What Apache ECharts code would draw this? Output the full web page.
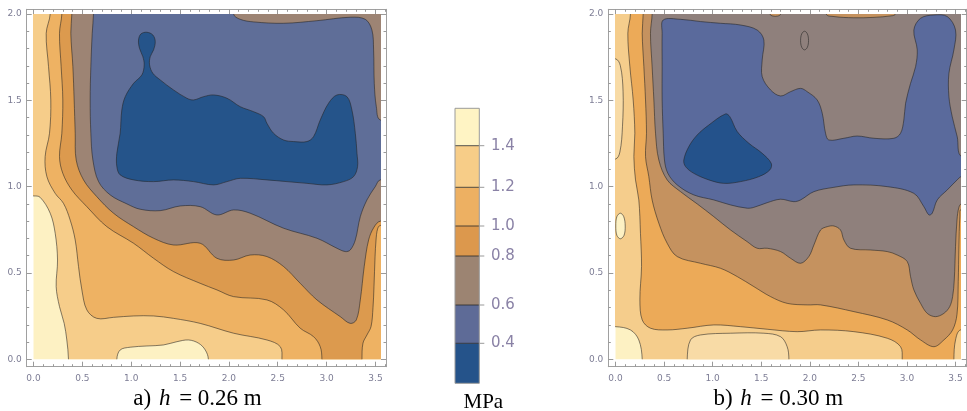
<!DOCTYPE html>
<html><head><meta charset="utf-8">
<script src="https://cdn.jsdelivr.net/npm/echarts@6/dist/echarts.min.js"></script>
<style>html,body{margin:0;padding:0;background:#fff}#c{width:967px;height:411px}</style>
</head><body><div id="c"></div>
<script>
// ================= DATA =================
// contour levels (MPa) shown in the colour bar
const legendLabels = ['0.4', '0.6', '0.8', '1.0', '1.2', '1.4'];
// axis ticks
const xMajor = [0, 0.5, 1, 1.5, 2, 2.5, 3, 3.5];
const xMinor = [0,0.1,0.2,0.3,0.4,0.5,0.6,0.7,0.8,0.9,1,1.1,1.2,1.3,1.4,1.5,1.6,1.7,1.8,1.9,2,2.1,2.2,2.3,2.4,2.5,2.6,2.7,2.8,2.9,3,3.1,3.2,3.3,3.4,3.5,3.6];
const yMajor = [0, 0.5, 1, 1.5, 2];
const yMinor = [0,0.1,0.2,0.3,0.4,0.5,0.6,0.7,0.8,0.9,1,1.1,1.2,1.3,1.4,1.5,1.6,1.7,1.8,1.9,2];
const xExtent = [0, 3.55];
const yExtent = [0, 2];
const captionA = ['a) ', 'h', ' = 0.26 m'];
const captionB = ['b) ', 'h', ' = 0.30 m'];

// ---- plot a) h = 0.26 m : sub-level sets (x [m], y [m])
const a_lt14 = [[-0.3,2.3],[-0.3,0.946],[0,0.946],[0.068,0.938],[0.171,0.846],[0.222,0.730],[0.246,0.575],[0.232,0.421],[0.266,0.305],[0.314,0.208],[0.341,0.112],[0.358,0],[0.36,-0.3],[0.85,-0.3],[0.853,0],[0.887,0.054],[0.99,0.07],[1.16,0.077],[1.33,0.083],[1.468,0.102],[1.587,0.112],[1.69,0.093],[1.758,0.054],[1.79,0],[1.79,-0.3],[3.9,-0.3],[3.9,2.3]];
const a_lt12 = [[0.17,2.3],[0.171,2.0],[0.130,1.888],[0.154,1.695],[0.177,1.502],[0.164,1.309],[0.119,1.174],[0.137,1.058],[0.222,0.961],[0.307,0.903],[0.375,0.807],[0.427,0.691],[0.461,0.537],[0.495,0.402],[0.546,0.286],[0.648,0.237],[0.819,0.243],[1.024,0.251],[1.229,0.251],[1.433,0.237],[1.706,0.208],[2.048,0.151],[2.389,0.112],[2.526,0.073],[2.543,0],[2.545,-0.3],[3.9,-0.3],[3.9,2.3]];
const a_lt10 = [[0.29,2.3],[0.290,2.0],[0.266,1.888],[0.283,1.695],[0.300,1.502],[0.290,1.309],[0.266,1.174],[0.300,1.077],[0.392,0.981],[0.546,0.884],[0.751,0.768],[1.024,0.672],[1.229,0.585],[1.433,0.508],[1.706,0.440],[1.877,0.402],[2.048,0.363],[2.389,0.344],[2.560,0.286],[2.730,0.180],[2.867,0.131],[2.935,0.073],[2.952,0],[2.955,-0.3],[3.36,-0.3],[3.362,0],[3.372,0.093],[3.413,0.141],[3.455,0.19],[3.475,0.30],[3.485,0.42],[3.496,0.594],[3.506,0.691],[3.522,0.755],[3.55,0.775],[3.9,0.775],[3.9,2.3]];
const a_lt08 = [[0.39,2.3],[0.392,2.0],[0.382,1.888],[0.403,1.695],[0.416,1.502],[0.427,1.309],[0.437,1.154],[0.512,1.039],[0.648,0.942],[0.819,0.846],[1.024,0.768],[1.229,0.701],[1.433,0.662],[1.706,0.672],[1.877,0.585],[2.048,0.575],[2.218,0.604],[2.389,0.595],[2.560,0.537],[2.730,0.440],[2.901,0.344],[3.140,0.247],[3.242,0.208],[3.304,0.228],[3.345,0.344],[3.385,0.537],[3.43,0.691],[3.485,0.765],[3.55,0.80],[3.9,0.81],[3.9,2.3]];
const a_lt06 = [[0.601,1.888],[0.614,2.0],[0.62,2.3],[2.04,2.3],[2.048,2.0],[2.116,1.969],[2.253,1.954],[2.560,1.946],[2.901,1.961],[3.242,1.981],[3.396,1.969],[3.464,1.907],[3.481,1.792],[3.488,1.598],[3.509,1.463],[3.55,1.386],[3.9,1.38],[3.9,1.045],[3.55,1.039],[3.498,1.0],[3.413,0.923],[3.345,0.826],[3.294,0.691],[3.242,0.633],[3.191,0.624],[3.106,0.643],[2.901,0.701],[2.560,0.759],[2.218,0.846],[2.048,0.865],[1.877,0.836],[1.706,0.884],[1.502,0.888],[1.297,0.861],[1.092,0.869],[0.956,0.900],[0.785,0.952],[0.666,1.029],[0.608,1.154],[0.587,1.309],[0.580,1.502],[0.587,1.695]];
const a_lt04 = [[1.160,1.894],[1.222,1.878],[1.246,1.840],[1.229,1.792],[1.195,1.753],[1.188,1.705],[1.222,1.656],[1.297,1.618],[1.433,1.560],[1.570,1.512],[1.638,1.502],[1.741,1.521],[1.843,1.531],[1.980,1.512],[2.116,1.463],[2.253,1.434],[2.355,1.405],[2.389,1.367],[2.457,1.309],[2.560,1.270],[2.662,1.261],[2.799,1.261],[2.867,1.290],[2.935,1.386],[3.020,1.483],[3.106,1.531],[3.208,1.521],[3.259,1.444],[3.294,1.309],[3.311,1.193],[3.317,1.116],[3.276,1.058],[3.174,1.029],[3.003,1.010],[2.799,1.019],[2.594,1.029],[2.389,1.039],[2.116,1.048],[1.980,1.029],[1.843,1.010],[1.638,1.029],[1.433,1.039],[1.229,1.029],[1.024,1.039],[0.887,1.068],[0.853,1.116],[0.853,1.193],[0.887,1.309],[0.904,1.444],[0.939,1.521],[1.024,1.598],[1.109,1.647],[1.133,1.705],[1.119,1.753],[1.085,1.801],[1.075,1.849],[1.099,1.884]];

// ---- plot b) h = 0.30 m
const b_lt14 = [[-0.3,2.3],[-0.3,0.189],[0,0.189],[0.154,0.170],[0.240,0.112],[0.275,0],[0.277,-0.3],[3.9,-0.3],[3.9,2.3]];
const b_peakOval = [[0.05,0.846],[0.085,0.826],[0.10,0.772],[0.088,0.718],[0.05,0.698],[0.014,0.718],[0.003,0.772],[0.014,0.826]];
const b_edgeBump = [[-0.3,1.74],[0,1.74],[0.05,1.70],[0.078,1.55],[0.072,1.35],[0.045,1.20],[0,1.16],[-0.3,1.16]];
const b_bottomBump = [[0.735,-0.3],[0.738,0],[0.772,0.112],[0.875,0.141],[1.184,0.151],[1.527,0.151],[1.699,0.131],[1.767,0.073],[1.785,0],[1.79,-0.3]];
const b_lt12 = [[0.15,2.3],[0.154,2.0],[0.127,1.888],[0.148,1.695],[0.182,1.502],[0.199,1.309],[0.189,1.174],[0.206,1.039],[0.240,0.923],[0.257,0.730],[0.268,0.537],[0.251,0.344],[0.275,0.228],[0.360,0.180],[0.532,0.170],[0.738,0.180],[1.012,0.199],[1.287,0.189],[1.561,0.174],[1.870,0.160],[2.111,0.170],[2.454,0.160],[2.797,0.122],[2.934,0.073],[2.951,0],[2.953,-0.3],[3.48,-0.3],[3.483,0],[3.50,0.112],[3.552,0.170],[3.9,0.18],[3.9,2.3]];
const b_lt10 = [[0.285,2.3],[0.285,2.0],[0.275,1.888],[0.292,1.695],[0.309,1.502],[0.319,1.309],[0.309,1.174],[0.343,1.058],[0.377,0.923],[0.446,0.788],[0.532,0.672],[0.635,0.595],[0.875,0.556],[1.081,0.527],[1.253,0.479],[1.424,0.421],[1.596,0.363],[1.767,0.324],[1.973,0.315],[2.111,0.315],[2.454,0.276],[2.797,0.228],[3.003,0.170],[3.140,0.112],[3.277,0.073],[3.380,0.112],[3.47,0.17],[3.515,0.26],[3.528,0.45],[3.535,0.65],[3.545,0.83],[3.56,0.87],[3.9,0.87],[3.9,2.3]];
const b_lt08 = [[0.377,2.3],[0.377,2.0],[0.360,1.888],[0.377,1.695],[0.395,1.502],[0.412,1.309],[0.446,1.154],[0.532,1.039],[0.669,0.971],[0.841,0.900],[1.012,0.826],[1.184,0.749],[1.356,0.681],[1.458,0.643],[1.561,0.643],[1.699,0.624],[1.802,0.585],[1.905,0.556],[1.990,0.595],[2.042,0.662],[2.111,0.749],[2.179,0.768],[2.248,0.772],[2.316,0.749],[2.351,0.691],[2.419,0.643],[2.625,0.633],[2.797,0.624],[2.900,0.604],[3.003,0.566],[3.037,0.479],[3.071,0.402],[3.140,0.324],[3.209,0.266],[3.294,0.247],[3.380,0.266],[3.440,0.305],[3.470,0.363],[3.487,0.459],[3.500,0.653],[3.515,0.807],[3.535,0.88],[3.562,0.9],[3.9,0.9],[3.9,2.3]];
const b_topSlit1 = [[1.58,2.3],[1.59,2.0],[1.62,1.988],[1.67,1.988],[1.70,2.0],[1.71,2.3]];
const b_topSlit2 = [[2.16,2.3],[2.17,2.0],[2.25,1.985],[2.45,1.978],[2.65,1.98],[2.85,1.99],[2.88,2.0],[2.89,2.3]];
const b_lt06 = [[0.480,1.888],[0.491,1.965],[0.669,1.969],[0.875,1.956],[1.081,1.946],[1.287,1.936],[1.458,1.907],[1.527,1.849],[1.510,1.734],[1.510,1.637],[1.596,1.560],[1.699,1.525],[1.802,1.550],[1.905,1.569],[1.973,1.550],[2.076,1.502],[2.128,1.425],[2.162,1.309],[2.196,1.270],[2.351,1.280],[2.488,1.293],[2.660,1.280],[2.865,1.280],[2.934,1.309],[2.968,1.386],[2.986,1.483],[3.037,1.598],[3.089,1.695],[3.106,1.792],[3.071,1.907],[3.140,1.975],[3.277,1.994],[3.415,1.985],[3.500,1.907],[3.483,1.792],[3.432,1.656],[3.432,1.521],[3.466,1.405],[3.517,1.290],[3.562,1.174],[3.9,1.17],[3.9,1.06],[3.562,1.058],[3.517,1.039],[3.415,0.981],[3.312,0.923],[3.260,0.846],[3.226,0.836],[3.174,0.884],[3.071,0.961],[2.797,1.0],[2.454,1.010],[2.248,0.996],[2.042,0.971],[1.905,0.923],[1.836,0.913],[1.699,0.927],[1.561,0.907],[1.424,0.880],[1.356,0.875],[1.184,0.894],[1.012,0.923],[0.806,0.952],[0.635,1.010],[0.539,1.077],[0.504,1.154],[0.491,1.309],[0.480,1.502],[0.480,1.695]];
const b_lowOval = [[1.946,1.90],[1.975,1.885],[1.987,1.846],[1.975,1.807],[1.946,1.792],[1.917,1.807],[1.905,1.846],[1.917,1.885]];
const b_lt04 = [[0.703,1.154],[0.755,1.232],[0.841,1.299],[0.961,1.357],[1.132,1.421],[1.177,1.405],[1.253,1.319],[1.373,1.251],[1.510,1.193],[1.603,1.135],[1.589,1.097],[1.476,1.058],[1.287,1.029],[1.115,1.019],[0.961,1.039],[0.806,1.077],[0.721,1.116]];

// ================= STYLE / LAYOUT =================
// band colours: 0:<0.4 1:0.4-0.6 2:0.6-0.8 3:0.8-1.0 4:1.0-1.2 5:1.2-1.4 6:>1.4
const paletteA = ['#25548a','#5f6e98','#9d8474','#dc9a4e','#eeb263','#f6cd8a','#fdf1c3'];
const paletteB = ['#24528b','#5a6a9c','#8f807c','#c5925f','#ecaa58','#f5cd8c','#f8dba6','#fdf1c3'];
const paletteLegend = ['#25538a','#5e6b97','#9c8472','#dc984d','#edb062','#f7cd88','#fff4c4'];

const regionsA = [
  {band: 5, pts: a_lt14}, {band: 4, pts: a_lt12}, {band: 3, pts: a_lt10},
  {band: 2, pts: a_lt08}, {band: 1, pts: a_lt06}, {band: 0, pts: a_lt04}
];
const regionsB = [
  {band: 5, pts: b_lt14}, {band: 7, pts: b_peakOval}, {band: 6, pts: b_edgeBump}, {band: 6, pts: b_bottomBump},
  {band: 4, pts: b_lt12}, {band: 3, pts: b_lt10}, {band: 2, pts: b_lt08},
  {band: 3, pts: b_topSlit1}, {band: 3, pts: b_topSlit2},
  {band: 1, pts: b_lt06}, {band: 2, pts: b_lowOval}, {band: 0, pts: b_lt04}
];

const FRAME = '#a0a0a0', TICK = '#9a9a9a', LBL = '#7d7d95', LINE = 'rgba(35,35,35,0.62)';
const yRange = [-0.0429, 2.027];
const plots = [
  {frame: {left: 26.7, top: 9.3, right: 386, bottom: 366.7}, xr: [-0.0696, 3.608], regions: regionsA, palette: paletteA, bg: 6, cap: captionA, capX: 197.5},
  {frame: {left: 608.3, top: 9.3, right: 966.7, bottom: 366.7}, xr: [-0.0741, 3.615], regions: regionsB, palette: paletteB, bg: 7, cap: captionB, capX: 778.3}
];

const fmt = v => v.toFixed(1);
const grids = [], xAxes = [], yAxes = [], series = [], graphics = [];

plots.forEach((p, k) => {
  const f = p.frame, fw = f.right - f.left, fh = f.bottom - f.top;
  const xs = p.xr[1] - p.xr[0], ys = yRange[1] - yRange[0];
  const go = grids.length;
  grids.push({left: f.left, top: f.top, width: fw, height: fh, show: false, containLabel: false, outerBoundsMode: 'none'});
  grids.push({
    left: f.left + (xExtent[0] - p.xr[0]) / xs * fw,
    top: f.top + (yRange[1] - yExtent[1]) / ys * fh,
    width: (xExtent[1] - xExtent[0]) / xs * fw,
    height: (yExtent[1] - yExtent[0]) / ys * fh,
    show: true, borderWidth: 0, backgroundColor: p.palette[p.bg], containLabel: false, outerBoundsMode: 'none'
  });
  const mkX = (pos, vals, len, lab, line) => ({
    gridIndex: go, type: 'value', min: p.xr[0], max: p.xr[1], position: pos,
    axisLine: {show: line, onZero: false, lineStyle: {color: FRAME, width: 1}},
    axisTick: {show: true, inside: true, length: len, customValues: vals, lineStyle: {color: TICK, width: 1}},
    axisLabel: lab ? {show: true, customValues: xMajor, formatter: fmt, color: LBL, fontSize: 9, fontFamily: 'DejaVu Sans', margin: 7} : {show: false},
    splitLine: {show: false}
  });
  const mkY = (pos, vals, len, lab, line) => ({
    gridIndex: go, type: 'value', min: yRange[0], max: yRange[1], position: pos,
    axisLine: {show: line, onZero: false, lineStyle: {color: FRAME, width: 1}},
    axisTick: {show: true, inside: true, length: len, customValues: vals, lineStyle: {color: TICK, width: 1}},
    axisLabel: lab ? {show: true, customValues: yMajor, formatter: fmt, color: LBL, fontSize: 9, fontFamily: 'DejaVu Sans', margin: 5} : {show: false},
    splitLine: {show: false}
  });
  xAxes.push(mkX('bottom', xMajor, 5, true, true), mkX('bottom', xMinor, 2.5, false, false),
             mkX('top', xMajor, 5, false, true), mkX('top', xMinor, 2.5, false, false));
  yAxes.push(mkY('left', yMajor, 5, true, true), mkY('left', yMinor, 2.5, false, false),
             mkY('right', yMajor, 5, false, true), mkY('right', yMinor, 2.5, false, false));
  const innerX = xAxes.length, innerY = yAxes.length;
  xAxes.push({gridIndex: go + 1, type: 'value', min: xExtent[0], max: xExtent[1], show: false});
  yAxes.push({gridIndex: go + 1, type: 'value', min: yExtent[0], max: yExtent[1], show: false});
  const regs = p.regions, pal = p.palette;
  series.push({
    type: 'custom', coordinateSystem: 'cartesian2d', xAxisIndex: innerX, yAxisIndex: innerY,
    clip: true, silent: true, animation: false,
    data: regs.map(() => [0, 0]),
    renderItem: (params, api) => {
      const r = regs[params.dataIndex];
      return {
        type: 'polygon',
        shape: {points: r.pts.map(q => api.coord(q)), smooth: 0.35},
        style: {fill: pal[r.band], stroke: LINE, lineWidth: 0.9}
      };
    }
  });
  graphics.push({
    type: 'text', x: p.capX, y: 399,
    style: {
      text: '{n|' + p.cap[0] + '}{i|' + p.cap[1] + '}{n|' + p.cap[2] + '}',
      x: 0, y: 0, align: 'center', verticalAlign: 'middle',
      rich: {
        n: {fontFamily: 'Liberation Serif', fontSize: 23, fill: '#000', color: '#000'},
        i: {fontFamily: 'Liberation Serif', fontStyle: 'italic', fontSize: 23, fill: '#000', color: '#000', padding: [0, 3, 0, 2]}
      }
    }
  });
});

// ---- colour bar (layout of the reference legend)
const barX = 455, barW = 24.3;
const barEdges = [383.3, 343.3, 305, 256, 226, 187.3, 145.7, 108.3];
for (let i = 0; i < paletteLegend.length; i++) {
  graphics.push({type: 'rect', shape: {x: barX, y: barEdges[i + 1], width: barW, height: barEdges[i] - barEdges[i + 1]},
    style: {fill: paletteLegend[i]}});
}
for (let i = 1; i < barEdges.length - 1; i++) {
  graphics.push({type: 'line', shape: {x1: barX, y1: barEdges[i], x2: barX + barW, y2: barEdges[i]}, style: {stroke: 'rgba(40,40,40,0.8)', lineWidth: 1}});
  graphics.push({type: 'line', shape: {x1: barX + barW, y1: barEdges[i], x2: barX + barW + 5, y2: barEdges[i]}, style: {stroke: '#999', lineWidth: 1}});
  graphics.push({type: 'text', x: 491, y: barEdges[i], style: {text: legendLabels[i - 1], x: 0, y: 0, align: 'left', verticalAlign: 'middle',
    fontFamily: 'DejaVu Sans', fontSize: 15, fill: '#8a82a6'}});
}
graphics.push({type: 'rect', shape: {x: barX, y: barEdges[7], width: barW, height: barEdges[0] - barEdges[7]},
  style: {fill: 'none', stroke: '#9a9a9a', lineWidth: 1}});
graphics.push({type: 'text', x: 483.3, y: 402, style: {text: 'MPa', x: 0, y: 0, align: 'center', verticalAlign: 'middle',
  fontFamily: 'Liberation Serif', fontSize: 21, fill: '#000'}});

const chart = echarts.init(document.getElementById('c'), null, {renderer: 'canvas', width: 967, height: 411});
chart.setOption({
  animation: false,
  backgroundColor: '#ffffff',
  grid: grids, xAxis: xAxes, yAxis: yAxes, series: series, graphic: graphics
});
</script></body></html>
